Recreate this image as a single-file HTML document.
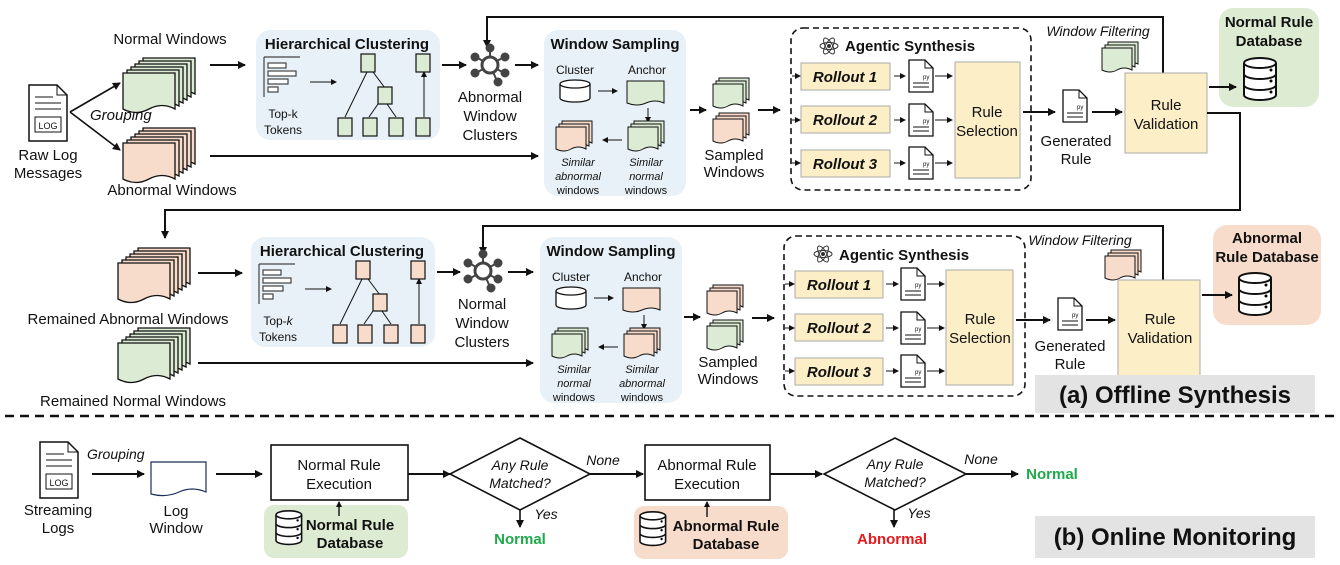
<!DOCTYPE html>
<html><head><meta charset="utf-8"><style>
body{margin:0;background:#fff}
svg{display:block;font-family:"Liberation Sans",sans-serif}
text{font-size:15px;fill:#111}
.b{font-weight:bold}
.i{font-style:italic}
</style></head><body>
<svg width="1340" height="565" viewBox="0 0 1340 565" xmlns="http://www.w3.org/2000/svg">
<defs>
<marker id="a" markerWidth="8" markerHeight="8" refX="7" refY="4" orient="auto" markerUnits="userSpaceOnUse"><path d="M0,0 L8,4 L0,8 z" fill="#111"/></marker>
<marker id="s" markerWidth="6" markerHeight="6" refX="5" refY="3" orient="auto" markerUnits="userSpaceOnUse"><path d="M0,0 L6,3 L0,6 z" fill="#111"/></marker>
<g id="docG"><path d="M0,0 h52 v36 q-13,-7 -26,0 t-26,0 z" fill="#dcebd3" stroke="#111" stroke-width="1.3"/></g>
<g id="docP"><path d="M0,0 h52 v36 q-13,-7 -26,0 t-26,0 z" fill="#f8dccb" stroke="#111" stroke-width="1.3"/></g>
<g id="stackG"><use href="#docG" x="20" y="0"/><use href="#docG" x="16" y="3"/><use href="#docG" x="12" y="6"/><use href="#docG" x="8" y="9"/><use href="#docG" x="4" y="12"/><use href="#docG" x="0" y="15"/></g>
<g id="stackP"><use href="#docP" x="20" y="0"/><use href="#docP" x="16" y="3"/><use href="#docP" x="12" y="6"/><use href="#docP" x="8" y="9"/><use href="#docP" x="4" y="12"/><use href="#docP" x="0" y="15"/></g>
<g id="smallG"><path d="M6,0 h30 v22 q-8,-4 -15,0 t-15,0 z" fill="#dcebd3" stroke="#111"/><path d="M3,3 h30 v22 q-8,-4 -15,0 t-15,0 z" fill="#dcebd3" stroke="#111"/><path d="M0,6 h30 v22 q-8,-4 -15,0 t-15,0 z" fill="#dcebd3" stroke="#111"/></g>
<g id="smallP"><path d="M6,0 h30 v22 q-8,-4 -15,0 t-15,0 z" fill="#f8dccb" stroke="#111"/><path d="M3,3 h30 v22 q-8,-4 -15,0 t-15,0 z" fill="#f8dccb" stroke="#111"/><path d="M0,6 h30 v22 q-8,-4 -15,0 t-15,0 z" fill="#f8dccb" stroke="#111"/></g>
<g id="py"><path d="M0,0 h16 l8,8 v24 h-24 z" fill="#fff" stroke="#111" stroke-width="1.3"/><path d="M16,0 v8 h8" fill="none" stroke="#111"/><text x="14" y="19" style="font-size:6px">py</text><path d="M4,23 h16 M4,27 h16" stroke="#111"/></g>
<g id="db"><g fill="#fff" stroke="#111" stroke-width="2"><path d="M0,6 v32 a16,5 0 0 0 32,0 v-32"/><ellipse cx="16" cy="6" rx="16" ry="5"/><path d="M0,17 a16,5 0 0 0 32,0 M0,28 a16,5 0 0 0 32,0"/></g><circle cx="27" cy="13" r="1.5"/><circle cx="27" cy="24" r="1.5"/><circle cx="27" cy="35" r="1.5"/></g>
<g id="logdoc"><path d="M0,0 h28 l10,10 v46 h-38 z" fill="#fff" stroke="#111" stroke-width="1.5"/><path d="M28,0 v10 h10" fill="none" stroke="#111"/><path d="M6,12 h18 M6,18 h26 M6,24 h26" stroke="#111"/><rect x="6" y="32" width="26" height="15" fill="#fff" stroke="#111"/><text x="19" y="44" text-anchor="middle" style="font-size:9px">LOG</text></g>
<g id="net" fill="#444" stroke="#444" stroke-width="2"><line x1="0" y1="0" x2="0" y2="-16"/><line x1="0" y1="0" x2="14" y2="-8"/><line x1="0" y1="0" x2="14" y2="8"/><line x1="0" y1="0" x2="-14" y2="8"/><line x1="0" y1="0" x2="-14" y2="-8"/><line x1="0" y1="0" x2="7" y2="16"/><circle cx="0" cy="-17" r="3.5"/><circle cx="15" cy="-8" r="3.5"/><circle cx="15" cy="8" r="3.5"/><circle cx="-15" cy="8" r="3.5"/><circle cx="-15" cy="-8" r="3.5"/><circle cx="8" cy="17" r="3.5"/><circle cx="0" cy="0" r="8" fill="#fff" stroke-width="3"/></g>
<g id="atom" fill="none" stroke="#333" stroke-width="1"><ellipse rx="9" ry="3.5"/><ellipse rx="9" ry="3.5" transform="rotate(60)"/><ellipse rx="9" ry="3.5" transform="rotate(-60)"/><circle r="1.5" fill="#333"/></g>
<g id="cyl" fill="#fff" stroke="#111" stroke-width="1.3"><path d="M0,4 v14 a15,4 0 0 0 30,0 v-14"/><ellipse cx="15" cy="4" rx="15" ry="4"/></g>
<g id="bars" fill="#fff" stroke="#444" stroke-width="1.2"><path d="M0,0 v40 M0,0 h36"/><rect x="4" y="6" width="18" height="5"/><rect x="4" y="14" width="28" height="5"/><rect x="4" y="22" width="20" height="5"/><rect x="4" y="30" width="10" height="5"/></g>
</defs>

<!-- ===== TOP ROW ===== -->
<path d="M1163,73 V17 H487 V47" fill="none" stroke="#111" stroke-width="2" marker-end="url(#a)"/>
<use href="#logdoc" x="29" y="85"/>
<text x="48" y="160" text-anchor="middle">Raw Log</text><text x="48" y="178" text-anchor="middle">Messages</text>
<text x="90" y="120" class="i">Grouping</text>
<path d="M70,112 L120,83" stroke="#111" stroke-width="1.6" marker-end="url(#a)"/>
<path d="M70,112 L120,150" stroke="#111" stroke-width="1.6" marker-end="url(#a)"/>
<text x="170" y="44" text-anchor="middle">Normal Windows</text>
<use href="#stackG" x="123" y="58"/>
<use href="#stackP" x="123" y="128"/>
<text x="172" y="195" text-anchor="middle">Abnormal Windows</text>
<path d="M210,65 H245" stroke="#111" stroke-width="2" marker-end="url(#a)"/>
<path d="M210,156 H538" stroke="#111" stroke-width="2" marker-end="url(#a)"/>

<g id="hc1">
<rect x="256" y="30" width="184" height="110" rx="14" fill="#e8f1f7"/>
<text x="347" y="49" text-anchor="middle" class="b">Hierarchical Clustering</text>
<use href="#bars" x="264" y="57"/>
<text x="283" y="118" text-anchor="middle" style="font-size:12px">Top-k</text><text x="283" y="134" text-anchor="middle" style="font-size:12px">Tokens</text>
<path d="M310,82 H336" stroke="#111" marker-end="url(#s)"/>
<g stroke="#111" fill="none"><path d="M345,117 L367,72 M369,117 L378,104 M396,117 L387,104 M385,88 L373,72 M424,117 V72" marker-end="url(#s)"/></g>
<g fill="#dcebd3" stroke="#111" stroke-width="1.2"><rect x="361" y="54" width="14" height="18"/><rect x="416" y="54" width="14" height="18"/><rect x="378" y="87" width="14" height="17"/><rect x="338" y="118" width="14" height="18"/><rect x="363" y="118" width="14" height="18"/><rect x="389" y="118" width="14" height="18"/><rect x="416" y="118" width="14" height="18"/></g>
</g>
<path d="M442,65 H466" stroke="#111" stroke-width="2" marker-end="url(#a)"/>
<use href="#net" x="490" y="65"/>
<text x="490" y="102" text-anchor="middle">Abnormal</text><text x="490" y="121" text-anchor="middle">Window</text><text x="490" y="140" text-anchor="middle">Clusters</text>
<path d="M515,65 H538" stroke="#111" stroke-width="2" marker-end="url(#a)"/>

<rect x="544" y="30" width="142" height="166" rx="14" fill="#e8f1f7"/>
<text x="615" y="49" text-anchor="middle" class="b">Window Sampling</text>
<text x="575" y="74" text-anchor="middle" style="font-size:12px">Cluster</text><text x="647" y="74" text-anchor="middle" style="font-size:12px">Anchor</text>
<use href="#cyl" x="560" y="80"/>
<path d="M598,91 H617" stroke="#111" marker-end="url(#s)"/>
<path d="M627,81 h37 v22 q-9,-4 -18,0 t-19,0 z" fill="#dcebd3" stroke="#111"/>
<path d="M648,108 V122" stroke="#111" marker-end="url(#s)"/>
<use href="#smallG" x="628" y="121"/>
<path d="M622,140 H603" stroke="#111" marker-end="url(#s)"/>
<use href="#smallP" x="556" y="121"/>
<text x="578" y="166" text-anchor="middle" class="i" style="font-size:11px">Similar</text><text x="578" y="180" text-anchor="middle" class="i" style="font-size:11px">abnormal</text><text x="578" y="194" text-anchor="middle" style="font-size:11px">windows</text>
<text x="646" y="166" text-anchor="middle" class="i" style="font-size:11px">Similar</text><text x="646" y="180" text-anchor="middle" class="i" style="font-size:11px">normal</text><text x="646" y="194" text-anchor="middle" style="font-size:11px">windows</text>

<path d="M690,110 H706" stroke="#111" stroke-width="2" marker-end="url(#a)"/>
<use href="#smallG" x="713" y="78"/>
<use href="#smallP" x="713" y="113"/>
<text x="734" y="160" text-anchor="middle">Sampled</text><text x="734" y="177" text-anchor="middle">Windows</text>
<path d="M758,110 H780" stroke="#111" stroke-width="2" marker-end="url(#a)"/>

<rect x="791" y="28" width="240" height="162" rx="12" fill="none" stroke="#111" stroke-width="1.6" stroke-dasharray="6,4"/>
<use href="#atom" x="829" y="46"/>
<text x="845" y="51" class="b">Agentic Synthesis</text>
<g fill="#fcefc7" stroke="#aaa"><rect x="801" y="63" width="89" height="27"/><rect x="801" y="106" width="89" height="27"/><rect x="801" y="150" width="89" height="27"/><rect x="955" y="62" width="65" height="116"/></g>
<text x="845" y="82" text-anchor="middle" class="b i">Rollout 1</text><text x="845" y="125" text-anchor="middle" class="b i">Rollout 2</text><text x="845" y="169" text-anchor="middle" class="b i">Rollout 3</text>
<text x="987" y="117" text-anchor="middle">Rule</text><text x="987" y="136" text-anchor="middle">Selection</text>
<g stroke="#111" marker-end="url(#s)"><path d="M792,76 H800"/><path d="M792,120 H800"/><path d="M792,163 H800"/><path d="M894,76 H905"/><path d="M894,120 H905"/><path d="M894,163 H905"/><path d="M935,76 H952"/><path d="M935,120 H952"/><path d="M935,163 H952"/></g>
<use href="#py" x="909" y="60"/><use href="#py" x="909" y="104"/><use href="#py" x="909" y="147"/>
<path d="M1023,112 H1055" stroke="#111" stroke-width="2" marker-end="url(#a)"/>
<use href="#py" x="1063" y="90"/>
<text x="1076" y="146" text-anchor="middle">Generated</text><text x="1076" y="164" text-anchor="middle">Rule</text>
<path d="M1092,112 H1122" stroke="#111" stroke-width="2" marker-end="url(#a)"/>
<rect x="1125" y="73" width="82" height="80" fill="#fcefc7" stroke="#aaa"/>
<text x="1166" y="110" text-anchor="middle">Rule</text><text x="1166" y="129" text-anchor="middle">Validation</text>
<text x="1098" y="36" text-anchor="middle" class="i" style="font-size:14px">Window Filtering</text>
<use href="#smallG" x="1102" y="42"/>
<rect x="1219" y="8" width="100" height="99" rx="14" fill="#ddebd3"/>
<text x="1269" y="27" text-anchor="middle" class="b">Normal Rule</text><text x="1269" y="46" text-anchor="middle" class="b">Database</text>
<use href="#db" x="1244" y="57"/>
<path d="M1209,87 H1236" stroke="#111" stroke-width="2" marker-end="url(#a)"/>
<path d="M1207,113 H1240 V210 H165 V238" fill="none" stroke="#111" stroke-width="2" marker-end="url(#a)"/>

<!-- ===== SECOND ROW ===== -->
<path d="M1163,280 V226 H483 V254" fill="none" stroke="#111" stroke-width="2" marker-end="url(#a)"/>
<use href="#stackP" x="118" y="248"/>
<use href="#stackG" x="118" y="328"/>
<text x="128" y="324" text-anchor="middle">Remained Abnormal Windows</text>
<text x="133" y="406" text-anchor="middle">Remained Normal Windows</text>
<path d="M198,273 H242" stroke="#111" stroke-width="2" marker-end="url(#a)"/>
<path d="M198,363 H533" stroke="#111" stroke-width="2" marker-end="url(#a)"/>

<g transform="translate(-5,207)">
<rect x="256" y="30" width="184" height="110" rx="14" fill="#e8f1f7"/>
<text x="347" y="49" text-anchor="middle" class="b">Hierarchical Clustering</text>
<use href="#bars" x="264" y="57"/>
<text x="283" y="118" text-anchor="middle" style="font-size:12px">Top-<tspan font-style="italic">k</tspan></text><text x="283" y="134" text-anchor="middle" style="font-size:12px">Tokens</text>
<path d="M310,82 H336" stroke="#111" marker-end="url(#s)"/>
<g stroke="#111" fill="none"><path d="M345,117 L367,72 M369,117 L378,104 M396,117 L387,104 M385,88 L373,72 M424,117 V72" marker-end="url(#s)"/></g>
<g fill="#f8dccb" stroke="#111" stroke-width="1.2"><rect x="361" y="54" width="14" height="18"/><rect x="416" y="54" width="14" height="18"/><rect x="378" y="87" width="14" height="17"/><rect x="338" y="118" width="14" height="18"/><rect x="363" y="118" width="14" height="18"/><rect x="389" y="118" width="14" height="18"/><rect x="416" y="118" width="14" height="18"/></g>
</g>
<path d="M437,272 H460" stroke="#111" stroke-width="2" marker-end="url(#a)"/>
<use href="#net" x="483" y="271"/>
<text x="482" y="309" text-anchor="middle">Normal</text><text x="482" y="328" text-anchor="middle">Window</text><text x="482" y="347" text-anchor="middle">Clusters</text>
<path d="M508,272 H533" stroke="#111" stroke-width="2" marker-end="url(#a)"/>

<g transform="translate(-4,207)">
<rect x="544" y="30" width="142" height="166" rx="14" fill="#e8f1f7"/>
<text x="615" y="49" text-anchor="middle" class="b">Window Sampling</text>
<text x="575" y="74" text-anchor="middle" style="font-size:12px">Cluster</text><text x="647" y="74" text-anchor="middle" style="font-size:12px">Anchor</text>
<use href="#cyl" x="560" y="80"/>
<path d="M598,91 H617" stroke="#111" marker-end="url(#s)"/>
<path d="M627,81 h37 v22 q-9,-4 -18,0 t-19,0 z" fill="#f8dccb" stroke="#111"/>
<path d="M648,108 V122" stroke="#111" marker-end="url(#s)"/>
<use href="#smallP" x="628" y="121"/>
<path d="M622,140 H603" stroke="#111" marker-end="url(#s)"/>
<use href="#smallG" x="556" y="121"/>
<text x="578" y="166" text-anchor="middle" class="i" style="font-size:11px">Similar</text><text x="578" y="180" text-anchor="middle" class="i" style="font-size:11px">normal</text><text x="578" y="194" text-anchor="middle" style="font-size:11px">windows</text>
<text x="646" y="166" text-anchor="middle" class="i" style="font-size:11px">Similar</text><text x="646" y="180" text-anchor="middle" class="i" style="font-size:11px">abnormal</text><text x="646" y="194" text-anchor="middle" style="font-size:11px">windows</text>
</g>

<path d="M684,317 H700" stroke="#111" stroke-width="2" marker-end="url(#a)"/>
<use href="#smallP" x="707" y="285"/>
<use href="#smallG" x="707" y="320"/>
<text x="728" y="367" text-anchor="middle">Sampled</text><text x="728" y="384" text-anchor="middle">Windows</text>
<path d="M752,318 H774" stroke="#111" stroke-width="2" marker-end="url(#a)"/>

<rect x="784" y="236" width="241" height="160" rx="12" fill="none" stroke="#111" stroke-width="1.6" stroke-dasharray="6,4"/>
<use href="#atom" x="823" y="254"/>
<text x="839" y="260" class="b">Agentic Synthesis</text>
<g fill="#fcefc7" stroke="#aaa"><rect x="795" y="271" width="88" height="27"/><rect x="795" y="314" width="88" height="27"/><rect x="795" y="358" width="88" height="27"/><rect x="946" y="270" width="67" height="115"/></g>
<text x="839" y="290" text-anchor="middle" class="b i">Rollout 1</text><text x="839" y="333" text-anchor="middle" class="b i">Rollout 2</text><text x="839" y="377" text-anchor="middle" class="b i">Rollout 3</text>
<text x="980" y="324" text-anchor="middle">Rule</text><text x="980" y="343" text-anchor="middle">Selection</text>
<g stroke="#111" marker-end="url(#s)"><path d="M785,284 H794"/><path d="M785,328 H794"/><path d="M785,371 H794"/><path d="M886,284 H898"/><path d="M886,328 H898"/><path d="M886,371 H898"/><path d="M927,284 H944"/><path d="M927,328 H944"/><path d="M927,371 H944"/></g>
<use href="#py" x="901" y="268"/><use href="#py" x="901" y="312"/><use href="#py" x="901" y="355"/>
<path d="M1016,320 H1050" stroke="#111" stroke-width="2" marker-end="url(#a)"/>
<use href="#py" x="1058" y="298"/>
<text x="1070" y="351" text-anchor="middle">Generated</text><text x="1070" y="369" text-anchor="middle">Rule</text>
<path d="M1086,320 H1115" stroke="#111" stroke-width="2" marker-end="url(#a)"/>
<rect x="1118" y="280" width="82" height="100" fill="#fcefc7" stroke="#aaa"/>
<text x="1160" y="324" text-anchor="middle">Rule</text><text x="1160" y="343" text-anchor="middle">Validation</text>
<text x="1080" y="245" text-anchor="middle" class="i" style="font-size:14px">Window Filtering</text>
<use href="#smallP" x="1105" y="250"/>
<rect x="1213" y="225" width="108" height="100" rx="14" fill="#f8dccb"/>
<text x="1267" y="243" text-anchor="middle" class="b">Abnormal</text><text x="1267" y="262" text-anchor="middle" class="b">Rule Database</text>
<use href="#db" x="1239" y="272"/>
<path d="M1202,295 H1232" stroke="#111" stroke-width="2" marker-end="url(#a)"/>

<rect x="1035" y="375" width="280" height="38" fill="#e3e3e3"/>
<text x="1175" y="403" text-anchor="middle" class="b" style="font-size:24px">(a) Offline Synthesis</text>

<line x1="5" y1="416" x2="1335" y2="416" stroke="#111" stroke-width="2.5" stroke-dasharray="9,6"/>

<!-- ===== ONLINE ===== -->
<use href="#logdoc" x="40" y="442"/>
<text x="58" y="515" text-anchor="middle">Streaming</text><text x="58" y="533" text-anchor="middle">Logs</text>
<text x="87" y="459" class="i" style="font-size:14px">Grouping</text>
<path d="M92,474 H144" stroke="#111" stroke-width="2" marker-end="url(#a)"/>
<path d="M151,462 h55 v30 q-14,-6 -27,0 t-28,2 z" fill="#fff" stroke="#1b2e5a" stroke-width="1.2"/>
<text x="176" y="516" text-anchor="middle">Log</text><text x="176" y="533" text-anchor="middle">Window</text>
<path d="M216,474 H262" stroke="#111" stroke-width="2" marker-end="url(#a)"/>
<rect x="271" y="445" width="137" height="55" fill="#fff" stroke="#111" stroke-width="1.6"/>
<text x="339" y="470" text-anchor="middle">Normal Rule</text><text x="339" y="489" text-anchor="middle">Execution</text>
<path d="M408,474 H450" stroke="#111" stroke-width="2" marker-end="url(#a)"/>
<path d="M520,438 L590,474 L520,510 L450,474 z" fill="#fff" stroke="#111" stroke-width="1.6"/>
<text x="520" y="470" text-anchor="middle" class="i" style="font-size:14px">Any Rule</text><text x="520" y="488" text-anchor="middle" class="i" style="font-size:14px">Matched?</text>
<text x="603" y="465" text-anchor="middle" class="i" style="font-size:14px">None</text>
<path d="M590,474 H643" stroke="#111" stroke-width="2" marker-end="url(#a)"/>
<path d="M520,510 V527" stroke="#111" stroke-width="1.6" marker-end="url(#a)"/>
<text x="546" y="519" text-anchor="middle" class="i" style="font-size:14px">Yes</text>
<text x="520" y="544" text-anchor="middle" class="b" style="fill:#1faa4a">Normal</text>
<rect x="645" y="445" width="125" height="55" fill="#fff" stroke="#111" stroke-width="1.6"/>
<text x="707" y="470" text-anchor="middle">Abnormal Rule</text><text x="707" y="489" text-anchor="middle">Execution</text>
<path d="M770,474 H822" stroke="#111" stroke-width="2" marker-end="url(#a)"/>
<path d="M895,438 L966,474 L895,510 L824,474 z" fill="#fff" stroke="#111" stroke-width="1.6"/>
<text x="895" y="469" text-anchor="middle" class="i" style="font-size:14px">Any Rule</text><text x="895" y="487" text-anchor="middle" class="i" style="font-size:14px">Matched?</text>
<text x="981" y="464" text-anchor="middle" class="i" style="font-size:14px">None</text>
<path d="M966,474 H1018" stroke="#111" stroke-width="2" marker-end="url(#a)"/>
<text x="1052" y="479" text-anchor="middle" class="b" style="fill:#1faa4a">Normal</text>
<path d="M894,510 V527" stroke="#111" stroke-width="1.6" marker-end="url(#a)"/>
<text x="919" y="518" text-anchor="middle" class="i" style="font-size:14px">Yes</text>
<text x="892" y="544" text-anchor="middle" class="b" style="fill:#e8191c">Abnormal</text>

<rect x="264" y="505" width="144" height="53" rx="10" fill="#ddebd3"/>
<use href="#db" x="0" y="0" transform="translate(276,510) scale(0.8)"/>
<text x="350" y="530" text-anchor="middle" class="b">Normal Rule</text><text x="350" y="548" text-anchor="middle" class="b">Database</text>
<path d="M339,516 V502" stroke="#111" stroke-width="1.4" marker-end="url(#s)"/>
<rect x="634" y="506" width="154" height="53" rx="10" fill="#f8dccb"/>
<use href="#db" x="0" y="0" transform="translate(640,511) scale(0.8)"/>
<text x="726" y="531" text-anchor="middle" class="b">Abnormal Rule</text><text x="726" y="549" text-anchor="middle" class="b">Database</text>
<path d="M707,517 V502" stroke="#111" stroke-width="1.4" marker-end="url(#s)"/>

<rect x="1035" y="516" width="280" height="42" fill="#e3e3e3"/>
<text x="1175" y="545" text-anchor="middle" class="b" style="font-size:24px">(b) Online Monitoring</text>
</svg>
</body></html>
